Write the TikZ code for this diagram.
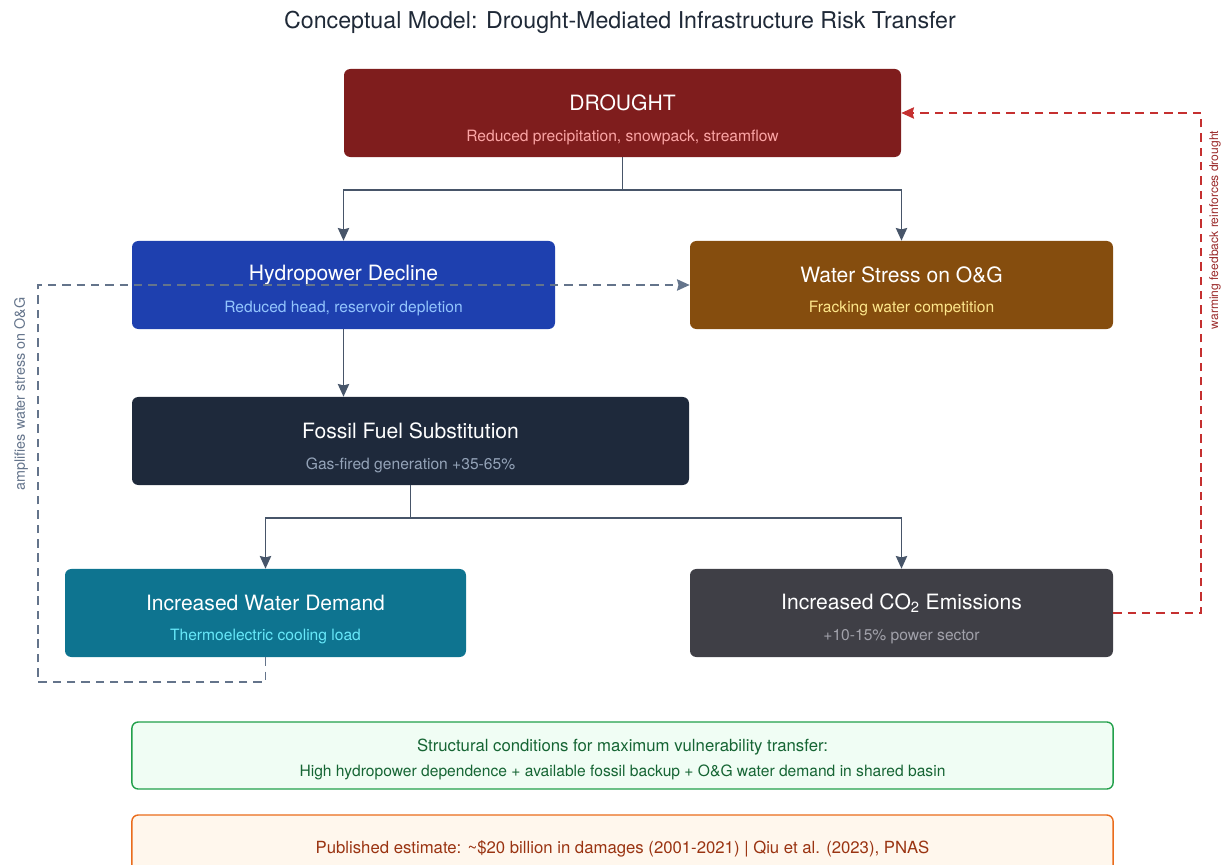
\documentclass[tikz,border=0pt]{standalone}
\usepackage{fontspec}
\setmainfont{TeX Gyre Heros}
\usetikzlibrary{arrows.meta}
\definecolor{cdrought}{HTML}{7F1D1D}\definecolor{sdrought}{HTML}{FCA5A5}
\definecolor{chydro}{HTML}{1E40AF}\definecolor{shydro}{HTML}{93C5FD}
\definecolor{cwater}{HTML}{854D0E}\definecolor{swater}{HTML}{FDE68A}
\definecolor{cfossil}{HTML}{1E293B}\definecolor{sfossil}{HTML}{94A3B8}
\definecolor{cdemand}{HTML}{0E7490}\definecolor{sdemand}{HTML}{67E8F9}
\definecolor{cco}{HTML}{3F3F46}\definecolor{sco}{HTML}{A1A1AA}
\definecolor{cline}{HTML}{475569}\definecolor{cdash}{HTML}{64748B}
\definecolor{cfeed}{HTML}{C53030}\definecolor{tfeed}{HTML}{9B2C2C}
\definecolor{cgreen}{HTML}{22A04B}\definecolor{fgreen}{HTML}{F0FDF4}\definecolor{tgreen}{HTML}{166534}
\definecolor{corange}{HTML}{EA6C1C}\definecolor{forange}{HTML}{FFF7ED}\definecolor{torange}{HTML}{9A3412}
\definecolor{ctitle}{HTML}{1F2937}
\tikzset{
  box/.style={rounded corners=4.5pt,inner sep=0pt,minimum height=2.2cm},
  ttl/.style={text=white,font=\fontsize{15}{17}\selectfont,inner sep=0pt},
  sub/.style={font=\fontsize{11.1}{13}\selectfont,inner sep=0pt},
  arr/.style={draw=cline,line width=1.4pt,-{Stealth[length=9pt,width=8pt,inset=1pt]}},
  dsh/.style={line width=1.4pt,dash pattern=on 6pt off 4.2pt,-{Stealth[length=9pt,width=8pt,inset=1pt]}},
  side/.style={rotate=90,inner sep=0pt},
  note/.style={rounded corners=4.5pt,line width=1pt,inner sep=0pt,minimum width=24.525cm,align=center}
}
\begin{document}
\begin{tikzpicture}[x=.025cm,y=-.025cm]
\useasboundingbox (0,0) rectangle (1224,865);
\node[text=ctitle,font=\fontsize{16.5}{18}\selectfont] (title) at (620,22) {Conceptual Model: Drought-Mediated Infrastructure Risk Transfer};
% main chain
\foreach \n/\cx/\cy/\w/\c/\t/\s/\sc in {drought/622.5/113/557/cdrought/DROUGHT/{Reduced precipitation, snowpack, streamflow}/sdrought,
  hydro/343.5/285/423/chydro/Hydropower Decline/{Reduced head, reservoir depletion}/shydro,
  water/901.5/285/423/cwater/Water Stress on O\&G/Fracking water competition/swater,
  fossil/410.5/441/557/cfossil/Fossil Fuel Substitution/Gas-fired generation +35-65\%/sfossil,
  demand/265.5/613/401/cdemand/Increased Water Demand/Thermoelectric cooling load/sdemand,
  co2/901.5/613/423/cco/Increased CO\textsubscript{2} Emissions/+10-15\% power sector/sco}{
  \node[box,fill=\c,minimum width={\w*.025cm}] (\n) at (\cx,\cy) {};
  \node[ttl] (\n-t) at (\cx,\cy-10) {\t};\node[sub,text=\sc] (\n-s) at (\cx,\cy+24) {\s};}
\draw[arr] (drought.south) -- ++(0,33) -| (hydro.north);\draw[arr] (drought.south) -- ++(0,33) -| (water.north);
\draw[arr] (hydro.south) -- (hydro.south |- fossil.north);
\draw[arr] (fossil.south) -- ++(0,33) -| (demand.north);\draw[arr] (fossil.south) -- ++(0,33) -| (co2.north);
% feedback loops
\draw[dsh,draw=cdash] (demand.south) -- ++(0,25) -- ++(-227.5,0) |- (water.west);
\node[side,text=cdash,font=\fontsize{10.2}{12}\selectfont] (amp) at (21,394) {amplifies water stress on O\&G};
\draw[dsh,draw=cfeed] (co2.east) -- ++(88,0) |- (drought.east);
\node[side,text=tfeed,font=\fontsize{8.6}{10}\selectfont] (warm) at (1215,230) {warming feedback reinforces drought};
% notes
\node[note,draw=cgreen,fill=fgreen,minimum height=1.675cm] (cond) at (622.5,755.5) {};
\node[text=tgreen,font=\fontsize{11.9}{14}\selectfont,inner sep=0pt] (cond-a) at (622.5,747) {Structural conditions for maximum vulnerability transfer:};
\node[text=tgreen,font=\fontsize{11.1}{13}\selectfont,inner sep=0pt] (cond-b) at (622.5,772) {High hydropower dependence + available fossil backup + O\&G water demand in shared basin};
\node[note,draw=corange,fill=forange,text=torange,minimum height=1.675cm,font=\fontsize{11.9}{14}\selectfont] (est) at (622.5,848.5) {Published estimate: \textasciitilde\$20 billion in damages (2001-2021) | Qiu et al. (2023), PNAS};
\end{tikzpicture}
\end{document}
